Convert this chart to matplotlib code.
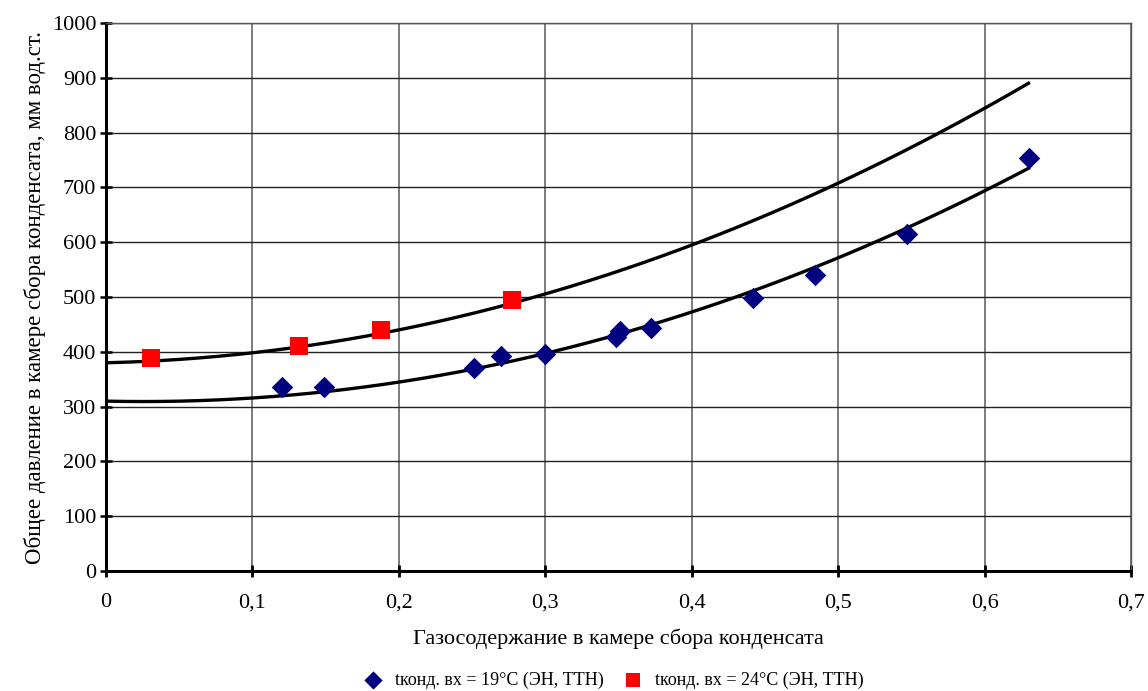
import matplotlib
matplotlib.use("Agg")
import matplotlib.pyplot as plt
import numpy as np

plt.rcParams["font.family"] = ["Liberation Serif", "DejaVu Serif"]

# tконд. вх = 19°C
x19 = [0.120, 0.149, 0.251, 0.270, 0.300, 0.348, 0.351, 0.372, 0.442, 0.484, 0.547, 0.630]
y19 = [336, 336, 370, 392, 396, 427, 438, 443, 498, 540, 615, 754]

# tконд. вх = 24°C
x24 = [0.031, 0.132, 0.188, 0.277]
y24 = [389, 411, 440, 494]

# 2nd order trendlines (c2, c1, c0)
trend19 = [1165, -59.5, 310]
trend24 = [1185, 63, 380]
trend_range = [0, 0.63]

xticks = [0, 0.1, 0.2, 0.3, 0.4, 0.5, 0.6, 0.7]
xtick_labels = ["0", "0,1", "0,2", "0,3", "0,4", "0,5", "0,6", "0,7"]
yticks = list(range(0, 1001, 100))

fig = plt.figure(figsize=(11.48, 6.91), dpi=100)
ax = fig.add_axes([106 / 1148, 1 - 571 / 691, (1131 - 106) / 1148, (571 - 23) / 691])

ax.set_xlim(0, 0.7)
ax.set_ylim(0, 1000)
ax.set_xticks(xticks)
ax.set_xticklabels(xtick_labels)
ax.set_yticks(yticks)
ax.grid(True, axis="y", color="#222222", linewidth=1.0)
ax.grid(True, axis="x", color="#666666", linewidth=1.2)
ax.set_axisbelow(True)

for side in ("top", "right"):
    ax.spines[side].set_color("#555555")
    ax.spines[side].set_linewidth(1.0)
for side in ("left", "bottom"):
    ax.spines[side].set_linewidth(2.2)
ax.tick_params(axis="x", direction="inout", length=8, width=2, labelsize=16, pad=12)
ax.tick_params(axis="y", direction="inout", length=8, width=1.8, labelsize=16, pad=3)

xs = np.linspace(trend_range[0], trend_range[1], 200)
ax.plot(xs, np.polyval(trend19, xs), color="black", linewidth=2.4, zorder=2)
ax.plot(xs, np.polyval(trend24, xs), color="black", linewidth=2.4, zorder=2)

ax.scatter(x19, y19, marker="D", s=120, color="#000080", linewidths=0, zorder=3,
           label="tконд. вх = 19°C (ЭН, ТТН)")
ax.scatter(x24, y24, marker="s", s=150, color="#ff0000", linewidths=0, zorder=3,
           label="tконд. вх = 24°C (ЭН, ТТН)")

ax.set_xlabel("Газосодержание в камере сбора конденсата", fontsize=16, labelpad=12)
ax.set_ylabel("Общее давление в камере сбора конденсата, мм вод.ст.", fontsize=16.5, labelpad=4)

fig.legend(*ax.get_legend_handles_labels(), loc="center", bbox_to_anchor=(613 / 1148, 1 - 680 / 691),
           ncol=2, frameon=False, fontsize=13, markerscale=0.85, handlelength=1.2,
           handletextpad=0.65, columnspacing=1.0, borderpad=0.2)

fig.savefig("out.png", dpi=100)
